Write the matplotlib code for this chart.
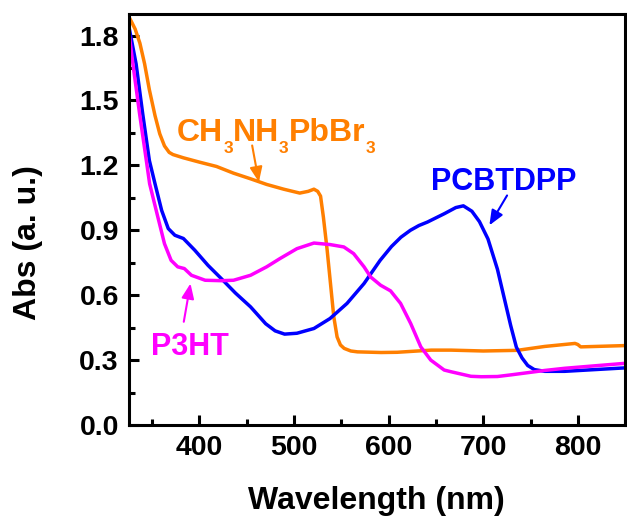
import matplotlib
matplotlib.use("Agg")
import matplotlib.pyplot as plt
from matplotlib.ticker import MultipleLocator, FormatStrFormatter
from matplotlib.transforms import offset_copy

plt.rcParams['font.family'] = ['Liberation Sans', 'DejaVu Sans']
plt.rcParams['font.weight'] = 'bold'

# CH3NH3PbBr3 (orange)
pero_x = [325, 328, 332, 337, 342, 347, 353, 358, 363, 368, 372, 383, 400, 418, 436, 454, 471,
          489, 506, 515, 521, 525, 528, 531, 535, 538.5, 542, 545.5, 549, 553, 560, 567, 592,
          609, 645, 666, 700, 736, 765, 797, 800, 803, 850]
pero_y = [1.89, 1.865, 1.83, 1.765, 1.669, 1.55, 1.43, 1.346, 1.29, 1.26, 1.25, 1.235, 1.215,
          1.195, 1.164, 1.138, 1.112, 1.09, 1.072, 1.08, 1.09, 1.08, 1.058, 0.961, 0.808, 0.654,
          0.50, 0.407, 0.37, 0.354, 0.342, 0.338, 0.335, 0.336, 0.346, 0.346, 0.342, 0.345,
          0.363, 0.377, 0.372, 0.361, 0.367]

# PCBTDPP (blue)
pcb_x = [325, 329, 333, 340, 347, 353, 360, 367, 374, 383, 395, 409, 423, 438, 454, 470, 480,
         490, 503, 521, 538, 556, 574, 591, 603, 613, 623, 632, 641, 659, 671, 679, 688, 696,
         705, 715, 722, 729, 735, 741, 747, 754, 765, 786, 850]
pcb_y = [1.85, 1.76, 1.669, 1.438, 1.223, 1.115, 0.992, 0.908, 0.877, 0.862, 0.808, 0.738,
         0.677, 0.61, 0.546, 0.468, 0.435, 0.42, 0.424, 0.446, 0.492, 0.562, 0.654, 0.761,
         0.825, 0.868, 0.90, 0.922, 0.938, 0.977, 1.005, 1.013, 0.988, 0.94, 0.86, 0.72, 0.59,
         0.46, 0.36, 0.31, 0.275, 0.256, 0.248, 0.248, 0.264]

# P3HT (magenta)
p3_x = [325, 329.6, 336.7, 343.8, 347.3, 356, 363, 370, 377, 384, 391.5, 406, 423, 436, 454,
        471, 485, 503, 521, 538, 552.6, 563, 574, 581, 591.5, 602, 612.6, 623.3, 634, 644.5,
        658.7, 666, 687, 698, 715, 730, 765, 786, 850]
p3_y = [1.83, 1.669, 1.438, 1.223, 1.115, 0.961, 0.838, 0.761, 0.731, 0.723, 0.692, 0.669,
        0.667, 0.669, 0.692, 0.731, 0.769, 0.815, 0.841, 0.834, 0.823, 0.792, 0.731, 0.684,
        0.646, 0.62, 0.562, 0.469, 0.361, 0.30, 0.254, 0.246, 0.225, 0.223, 0.224, 0.232,
        0.252, 0.262, 0.285]

xticks = [400, 500, 600, 700, 800]
yticks = [0.0, 0.3, 0.6, 0.9, 1.2, 1.5, 1.8]

ORANGE = '#FF7F00'
BLUE = '#0000FF'
MAGENTA = '#FF00FF'

fig = plt.figure(figsize=(6.27, 5.17), dpi=100)
ax = fig.add_axes([0.205, 0.178, 0.792, 0.795])

kw = dict(lw=2.5, solid_joinstyle='round', solid_capstyle='round')
ax.plot(pero_x, pero_y, color=ORANGE, **kw)
ax.plot(pcb_x, pcb_y, color=BLUE, **kw)
ax.plot(p3_x, p3_y, color=MAGENTA, **kw)

ax.set_xlim(325, 850)
ax.set_ylim(0, 1.9)
ax.set_xticks(xticks)
ax.set_yticks(yticks)
ax.xaxis.set_minor_locator(MultipleLocator(50))
ax.yaxis.set_minor_locator(MultipleLocator(0.15))
ax.yaxis.set_major_formatter(FormatStrFormatter('%.1f'))
ax.tick_params(which='major', direction='in', length=7, width=2.2, labelsize=20.5, pad=7)
ax.tick_params(which='minor', direction='in', length=4, width=2.2)
for lab in ax.get_xticklabels() + ax.get_yticklabels():
    lab.set_fontweight('bold')
for s in ax.spines.values():
    s.set_linewidth(2.2)

ax.set_xlabel('Wavelength (nm)', fontsize=23, fontweight='bold', labelpad=18)
ax.set_ylabel('Abs (a. u.)', fontsize=23, fontweight='bold')
ax.yaxis.set_label_coords(-0.173, 0.443)

# Chemical formula with subscripts, built piece by piece
renderer = fig.canvas.get_renderer()
pieces = [('CH', False), ('3', True), ('NH', False), ('3', True), ('PbBr', False), ('3', True)]
cur = 0.0
for s, sub in pieces:
    tr = offset_copy(ax.transData, fig=fig, x=cur, y=(-8.4 if sub else 0), units='points')
    t = ax.text(376.3, 1.311, s, transform=tr, color=ORANGE, fontweight='bold',
                fontsize=(12.5 if sub else 23), ha='left', va='baseline')
    cur += t.get_window_extent(renderer).width * 72.0 / fig.dpi

ah = dict(arrowstyle='-|>,head_length=0.6,head_width=0.25', lw=1.5, mutation_scale=15,
          shrinkA=0, shrinkB=0)
ax.annotate('', xy=(462.8, 1.123), xytext=(455.7, 1.292), arrowprops=dict(color=ORANGE, **ah))
ax.text(722, 1.084, 'PCBTDPP', color=BLUE, fontsize=22, fontweight='bold',
        ha='center', va='baseline')
ax.annotate('', xy=(706.5, 0.923), xytext=(725.2, 1.061), arrowprops=dict(color=BLUE, **ah))
ax.text(389.5, 0.323, 'P3HT', color=MAGENTA, fontsize=22, fontweight='bold',
        ha='center', va='baseline')
ax.annotate('', xy=(390.5, 0.654), xytext=(383.4, 0.477), arrowprops=dict(color=MAGENTA, **ah))

fig.savefig('out.png', dpi=100)
